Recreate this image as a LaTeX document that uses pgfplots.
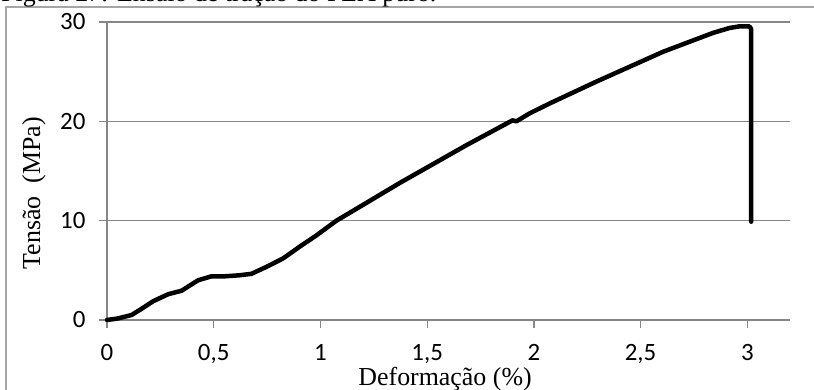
\documentclass[border=0pt]{standalone}
\usepackage{fontspec}
\setmainfont{Liberation Serif}
\newfontfamily\carlito{Carlito}
\usepackage{pgfplots}
\pgfplotsset{compat=1.18}
\definecolor{gridgray}{RGB}{134,134,134}
\definecolor{framegray}{RGB}{165,165,165}
\begin{document}
\begin{tikzpicture}
\useasboundingbox (-107bp,-70bp) rectangle (707bp,320bp);
\draw[framegray, line width=1.2bp] (-101bp,-80bp) -- (-101bp,313bp) -- (720bp,313bp);
\node[anchor=base west, inner sep=0pt, font=\fontsize{26}{30}\selectfont] at (-106bp,318bp) {Figura 27: Ensaio de tração do PLA puro.};
\begin{axis}[
  at={(0,0)}, anchor=south west,
  scale only axis, width=683bp, height=298bp,
  xmin=0, xmax=3.2, ymin=0, ymax=30,
  axis lines*=left,
  xtick={0,0.5,1,1.5,2,2.5,3},
  xticklabels={0,{0,5},1,{1,5},2,{2,5},3},
  ytick={0,10,20,30},
  yticklabels={0,10,20,30},
  tick align=outside,
  major tick length=8bp,
  tick style={gridgray, line width=1.3bp},
  axis line style={gridgray, line width=1.3bp},
  ymajorgrids,
  grid style={gridgray, line width=1.3bp},
  tick label style={font=\carlito\fontsize{25}{29}\selectfont},
  yticklabel style={xshift=-10bp},
  xticklabel style={yshift=-13bp},
  label style={font=\fontsize{26}{30}\selectfont},
  xlabel={Deformação (\%)},
  ylabel={Tensão\ \ (MPa)},
  xlabel style={at={(axis description cs:0.495,-0.197)}, anchor=center},
  ylabel style={at={(axis description cs:-0.107,0.426)}, anchor=center},
  clip=false,
]
\addplot[black, line width=4.5bp, line join=round, line cap=round] coordinates {
(0,0) (0.05,0.15) (0.115,0.5) (0.16,1.1) (0.217,1.9) (0.287,2.6) (0.35,2.95)
(0.39,3.5) (0.427,4.0) (0.49,4.4) (0.552,4.4) (0.62,4.5) (0.677,4.65)
(0.747,5.35) (0.825,6.2) (0.904,7.4) (0.98,8.5) (1.075,10.0) (1.13,10.7)
(1.372,13.8) (1.684,17.6) (1.90,20.1) (1.918,20.0) (1.98,20.8) (2.074,21.8)
(2.293,24.0) (2.605,27.0) (2.839,28.9) (2.917,29.4) (2.96,29.55) (3.01,29.55)
(3.018,29.3) (3.018,9.9)
};
\end{axis}
\end{tikzpicture}
\end{document}
